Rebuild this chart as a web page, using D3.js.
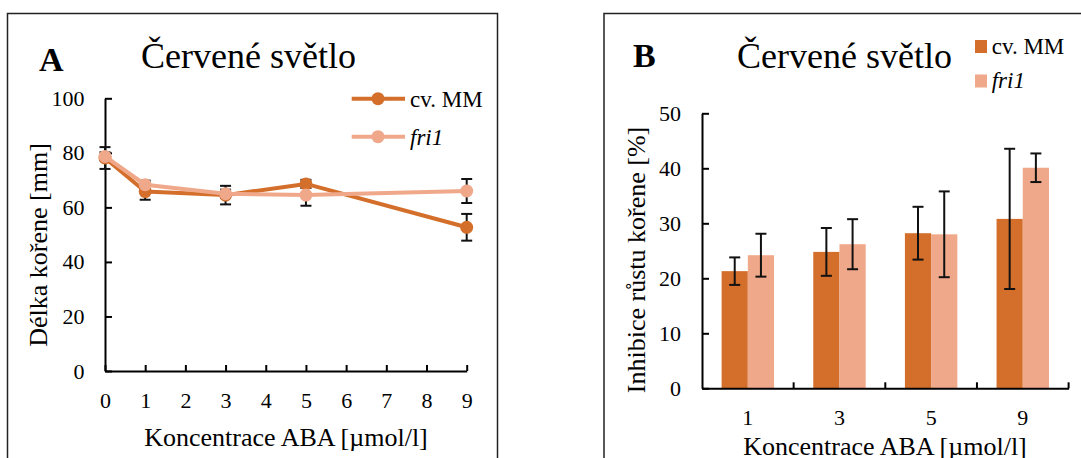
<!DOCTYPE html>
<html><head><meta charset="utf-8">
<script src="https://cdn.jsdelivr.net/npm/d3@7"></script>
<style>
html,body{margin:0;padding:0;background:#fff;}
svg{display:block;font-family:"Liberation Serif","Times New Roman",serif;}
</style></head>
<body>
<svg id="chart" width="1081" height="458"></svg>
<script>
// ---- Data ----
const concA = [0, 1, 3, 5, 9];
const xTicksA = [0, 1, 2, 3, 4, 5, 6, 7, 8, 9];
const yTicksA = [0, 20, 40, 60, 80, 100];
const mmA = [78.1, 65.8, 64.5, 68.6, 52.7];
const mmAErr = [4.0, 3.0, 3.4, 1.5, 4.9];
const friA = [78.7, 68.3, 65.0, 64.5, 66.0];
const friAErr = [1.5, 1.5, 1.5, 3.9, 4.4];

const catsB = ["1", "3", "5", "9"];
const yTicksB = [0, 10, 20, 30, 40, 50];
const mmB = [21.3, 24.8, 28.2, 30.8];
const mmBErr = [2.5, 4.35, 4.8, 12.75];
const friB = [24.2, 26.2, 28.0, 40.1];
const friBErr = [3.9, 4.55, 7.8, 2.6];

const seriesNames = ["cv. MM", "fri1"];
const title = "Červené světlo";
const xTitle = "Koncentrace ABA [µmol/l]";
const yTitleA = "Délka kořene [mm]";
const yTitleB = "Inhibice růstu kořene [%]";

const cMM = "#D46F2B", cFri = "#F0A88A";

const svg = d3.select("#chart");
svg.append("rect").attr("width", 1081).attr("height", 458).attr("fill", "#fff");

function styleAxis(g, size) {
  g.selectAll("path.domain").attr("stroke", "#000").attr("stroke-width", 2);
  g.selectAll(".tick line").attr("stroke", "#000").attr("stroke-width", 2);
  g.selectAll("text").attr("font-size", size).attr("fill", "#000")
    .attr("font-family", '"Liberation Serif","Times New Roman",serif');
}

// ================= Panel A =================
svg.append("rect").attr("x", 7.5).attr("y", 13.5).attr("width", 490).attr("height", 470)
  .attr("fill", "none").attr("stroke", "#222").attr("stroke-width", 1.5);

const xA = d3.scaleLinear().domain([0, 9]).range([105, 466.7]);
const yA = d3.scaleLinear().domain([0, 100]).range([371, 98.3]);

const gyA = svg.append("g").attr("transform", `translate(${xA(0)},0)`)
  .call(d3.axisLeft(yA).tickValues(yTicksA).tickSizeInner(-7).tickSizeOuter(0).tickPadding(20.5));
styleAxis(gyA, 22);
const gxA = svg.append("g").attr("transform", `translate(0,${yA(0)})`)
  .call(d3.axisBottom(xA).tickValues(xTicksA).tickFormat(d3.format("d")).tickSizeInner(-6).tickSizeOuter(0).tickPadding(21.5));
styleAxis(gxA, 22);

function drawErr(g, xs, ys, errs, yScale) {
  xs.forEach((x, i) => {
    const t = yScale(ys[i] + errs[i]), b = yScale(ys[i] - errs[i]);
    g.append("line").attr("x1", x).attr("x2", x).attr("y1", t).attr("y2", b)
      .attr("stroke", "#111").attr("stroke-width", 2);
    [t, b].forEach(yy => g.append("line").attr("x1", x - 5.5).attr("x2", x + 5.5)
      .attr("y1", yy).attr("y2", yy).attr("stroke", "#111").attr("stroke-width", 2));
  });
}
const errA = svg.append("g");
drawErr(errA, concA.map(d => xA(d)), mmA, mmAErr, yA);
drawErr(errA, concA.map(d => xA(d)), friA, friAErr, yA);

const line = d3.line().x(d => xA(d[0])).y(d => yA(d[1]));
[[mmA, cMM], [friA, cFri]].forEach(([vals, col]) => {
  const pts = concA.map((c, i) => [c, vals[i]]);
  svg.append("path").datum(pts).attr("d", line).attr("fill", "none")
    .attr("stroke", col).attr("stroke-width", 4).attr("stroke-linejoin", "round");
  svg.append("g").selectAll("circle").data(pts).join("circle")
    .attr("cx", d => xA(d[0])).attr("cy", d => yA(d[1])).attr("r", 6.5).attr("fill", col);
});

// titles A
svg.append("text").attr("x", 39).attr("y", 71).attr("font-size", 34).attr("font-weight", "bold").text("A");
svg.append("text").attr("x", 141).attr("y", 68).attr("font-size", 36).text(title);
svg.append("text").attr("x", 286).attr("y", 446).attr("text-anchor", "middle").attr("font-size", 26).text(xTitle);
svg.append("text").attr("transform", "translate(47,245) rotate(-90)").attr("text-anchor", "middle")
  .attr("font-size", 26).text(yTitleA);

// legend A
[[cMM, 98.7, 106.5, false], [cFri, 136.7, 145, true]].forEach(([col, ly, ty, it], i) => {
  svg.append("line").attr("x1", 351.7).attr("x2", 405).attr("y1", ly).attr("y2", ly)
    .attr("stroke", col).attr("stroke-width", 4);
  svg.append("circle").attr("cx", 378).attr("cy", ly).attr("r", 6.5).attr("fill", col);
  svg.append("text").attr("x", 410).attr("y", ty).attr("font-size", 23)
    .attr("font-style", it ? "italic" : "normal").text(seriesNames[i]);
});

// ================= Panel B =================
svg.append("rect").attr("x", 604).attr("y", 13.5).attr("width", 500).attr("height", 470)
  .attr("fill", "none").attr("stroke", "#222").attr("stroke-width", 1.5);

const yB = d3.scaleLinear().domain([0, 50]).range([388.3, 113.3]);
const x0 = d3.scaleBand().domain(catsB).range([702, 1068.6]).padding(0);
const x1 = d3.scaleBand().domain(seriesNames).range([0, x0.bandwidth()]).paddingInner(0).paddingOuter(0.748);

const gB = svg.append("g");
[[mmB, mmBErr, cMM, seriesNames[0]], [friB, friBErr, cFri, seriesNames[1]]].forEach(([vals, errs, col, name]) => {
  gB.append("g").selectAll("rect").data(catsB).join("rect")
    .attr("x", c => x0(c) + x1(name)).attr("width", x1.bandwidth())
    .attr("y", (c, i) => yB(vals[i])).attr("height", (c, i) => yB(0) - yB(vals[i]))
    .attr("fill", col);
});
const errB = svg.append("g");
drawErr(errB, catsB.map(c => x0(c) + x1(seriesNames[0]) + x1.bandwidth() / 2), mmB, mmBErr, yB);
drawErr(errB, catsB.map(c => x0(c) + x1(seriesNames[1]) + x1.bandwidth() / 2), friB, friBErr, yB);

const gyB = svg.append("g").attr("transform", `translate(${x0.range()[0]},0)`)
  .call(d3.axisLeft(yB).tickValues(yTicksB).tickSizeInner(-7).tickSizeOuter(0).tickPadding(21));
styleAxis(gyB, 22);
const gxB = svg.append("g").attr("transform", `translate(0,${yB(0)})`)
  .call(d3.axisBottom(x0).tickSizeInner(0).tickSizeOuter(0).tickPadding(21));
styleAxis(gxB, 22);
catsB.forEach(c => {
  const xx = x0(c) + x0.bandwidth();
  svg.append("line").attr("x1", xx).attr("x2", xx).attr("y1", yB(0)).attr("y2", yB(0) - 6)
    .attr("stroke", "#000").attr("stroke-width", 2);
});

svg.append("text").attr("x", 633).attr("y", 67).attr("font-size", 34).attr("font-weight", "bold").text("B");
svg.append("text").attr("x", 737).attr("y", 68).attr("font-size", 36).text(title);
svg.append("text").attr("x", 885).attr("y", 455).attr("text-anchor", "middle").attr("font-size", 26).text(xTitle);
svg.append("text").attr("transform", "translate(645,260) rotate(-90)").attr("text-anchor", "middle")
  .attr("font-size", 26).text(yTitleB);

[[cMM, 40, 54.3, false], [cFri, 74.5, 88.3, true]].forEach(([col, sy, ty, it], i) => {
  svg.append("rect").attr("x", 975).attr("y", sy).attr("width", 12).attr("height", 13).attr("fill", col);
  svg.append("text").attr("x", 991.7).attr("y", ty).attr("font-size", 23)
    .attr("font-style", it ? "italic" : "normal").text(seriesNames[i]);
});
</script>
</body></html>
